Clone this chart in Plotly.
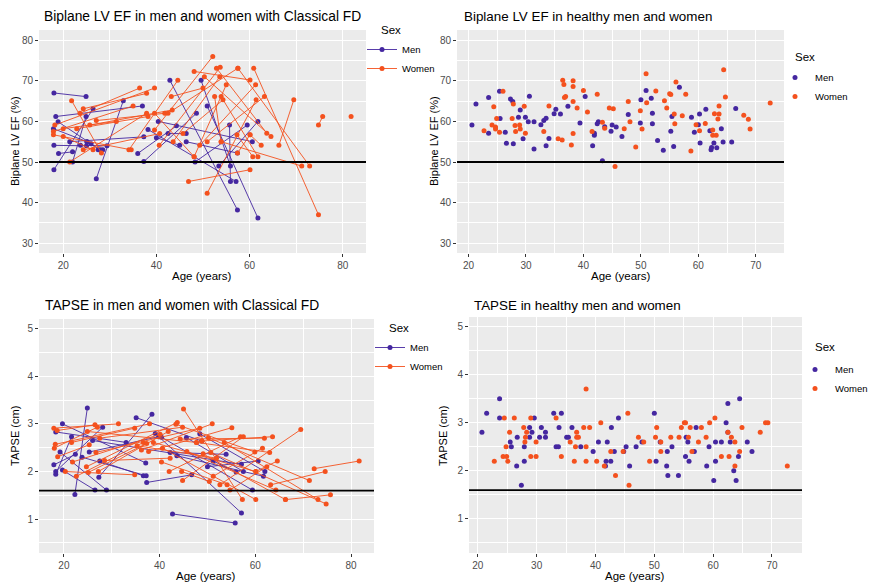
import plotly.graph_objects as go

# ---------------- DATA ----------------
MEN_COLOR = "#4527A0"
WOMEN_COLOR = "#F4511E"
EF_CUTOFF = 50
TAPSE_CUTOFF = 1.6

# Classical FD, Biplane LV EF: longitudinal segments (age1, ef1, age2, ef2)
FD_EF_MEN = [
    (18.0, 67.0, 24.9, 66.1), (18.4, 61.2, 37.0, 63.8), (18.9, 59.9, 26.0, 54.5),
    (17.9, 58.2, 25.1, 55.0), (18.0, 54.1, 25.0, 54.0), (19.0, 52.1, 22.0, 52.5),
    (18.0, 48.1, 26.4, 63.1), (27.1, 45.9, 32.9, 65.1), (21.4, 55.0, 37.3, 56.2),
    (22.0, 50.0, 24.9, 61.2), (23.7, 54.1, 29.4, 54.0), (27.5, 53.0, 28.5, 53.0),
    (37.3, 50.1, 48.6, 62.0), (42.9, 70.1, 57.4, 38.2), (50.9, 63.8, 61.8, 36.2),
    (36.0, 52.1, 44.3, 58.9), (40.0, 56.0, 45.0, 54.1), (46.4, 55.0, 57.4, 52.2),
    (48.3, 50.0, 59.5, 59.1), (53.4, 49.0, 61.8, 60.0), (55.9, 45.2, 55.7, 59.1),
    (40.4, 60.0, 60.6, 55.0), (38.2, 58.0, 57.1, 45.2), (49.6, 70.1, 55.9, 49.0),
    (42.5, 57.0, 46.4, 57.0), (25.1, 55.0, 28.0, 53.0),
]
FD_EF_WOMEN = [
    (21.8, 65.1, 28.2, 52.2), (23.6, 62.0, 36.4, 68.2), (24.3, 63.1, 37.9, 66.9),
    (18.2, 59.1, 39.6, 68.2), (17.9, 57.5, 35.0, 63.8), (17.9, 56.7, 34.6, 53.0),
    (20.0, 58.2, 31.4, 60.0), (20.0, 56.3, 26.4, 53.0), (21.4, 50.0, 37.9, 62.0),
    (22.9, 58.2, 38.2, 61.2), (24.3, 53.0, 40.7, 57.0), (25.7, 59.1, 43.4, 62.8),
    (27.1, 60.2, 41.8, 62.0), (34.1, 53.0, 44.6, 70.1), (39.6, 57.9, 52.1, 76.0),
    (40.6, 54.1, 53.7, 73.3), (42.5, 62.0, 57.5, 73.1), (43.2, 66.1, 50.0, 68.2),
    (43.6, 55.0, 53.6, 71.0), (45.7, 57.0, 54.3, 65.3), (48.1, 72.3, 60.1, 70.2),
    (50.3, 71.0, 64.6, 56.3), (52.9, 73.1, 63.7, 57.1), (48.1, 51.3, 55.0, 69.0),
    (49.3, 54.1, 61.3, 69.0), (50.9, 55.0, 63.2, 66.1), (50.9, 42.3, 61.4, 65.3),
    (46.9, 45.2, 60.1, 48.1), (57.5, 73.1, 72.9, 49.0), (60.9, 73.1, 74.8, 37.0),
    (53.9, 55.0, 71.2, 49.0), (66.3, 54.1, 69.5, 65.3), (74.8, 59.1, 75.7, 61.2),
    (60.1, 56.7, 62.5, 54.1), (57.3, 56.7, 60.7, 51.3), (53.9, 66.1, 61.8, 51.3),
    (57.4, 52.2, 60.1, 56.7), (52.5, 66.1, 53.9, 55.0), (39.6, 62.0, 48.1, 51.3),
    (81.8, 61.2, None, None),
]

# Healthy, Biplane LV EF (age, ef)
H_EF_MEN_AGE = [20.6, 21.3, 23.5, 23.5, 25.4, 25.5, 26.4, 26.6, 27.3, 27.7, 27.8, 28.7, 29.0, 29.5,
                29.9, 30.4, 30.6, 31.4, 31.4, 32.6, 33.1, 33.5, 33.5, 34.0, 34.9, 35.2, 36.0, 37.3,
                39.4, 40.3, 41.6, 41.9, 41.9, 42.4, 42.6, 43.3, 43.7, 45.0, 44.8, 45.7, 46.7, 47.8,
                49.9, 50.0, 50.9, 51.8, 52.0, 52.0, 52.9, 53.9, 55.2, 55.4, 55.7, 56.7, 58.8, 59.3,
                60.0, 60.2, 60.3, 61.3, 62.0, 62.2, 62.3, 62.7, 63.2, 64.0, 64.3, 65.8, 66.5]
H_EF_MEN_EF = [59.1, 64.3, 65.9, 57.1, 67.4, 60.7, 57.3, 54.6, 65.5, 64.9, 54.5, 61.0, 62.8, 55.7,
               61.0, 59.9, 66.2, 53.2, 59.9, 59.2, 60.2, 60.8, 54.0, 55.8, 61.9, 63.0, 61.8, 63.7,
               59.6, 66.1, 54.0, 57.1, 56.6, 59.4, 59.9, 50.3, 58.7, 59.1, 57.6, 58.6, 56.3, 61.7,
               59.6, 65.3, 67.6, 65.7, 62.0, 59.4, 55.3, 52.9, 57.6, 61.2, 53.8, 68.4, 61.0, 57.3,
               59.2, 61.8, 54.7, 63.0, 57.7, 53.0, 53.6, 54.7, 53.5, 58.2, 54.9, 54.9, 63.2]
H_EF_WOMEN_AGE = [22.7, 24.4, 24.1, 24.7, 24.9, 24.7, 25.4, 26.0, 27.6, 27.8, 28.1, 28.2, 28.9, 29.0,
                  29.7, 29.9, 33.1, 34.0, 35.6, 36.3, 36.4, 36.6, 36.7, 36.9, 38.2, 38.2, 38.2, 38.2,
                  37.9, 38.9, 40.0, 40.7, 41.5, 42.4, 43.3, 43.7, 44.5, 45.2, 45.5, 47.1, 47.8, 48.1,
                  49.1, 49.9, 50.2, 50.9, 51.0, 52.6, 54.1, 54.5, 55.0, 55.2, 55.8, 55.9, 56.1, 57.2,
                  57.8, 58.7, 59.6, 60.2, 61.2, 62.5, 62.5, 62.8, 63.1, 63.6, 63.6, 63.4, 64.4, 64.7,
                  67.9, 68.7, 69.0, 72.5]
H_EF_WOMEN_EF = [57.7, 63.6, 59.1, 58.6, 60.7, 58.1, 57.3, 67.4, 60.7, 64.3, 59.0, 57.5, 59.1, 58.1,
                 63.7, 57.1, 57.5, 63.8, 55.7, 55.4, 70.1, 69.1, 65.9, 66.1, 70.0, 68.6, 64.9, 57.0,
                 54.2, 63.3, 67.6, 62.3, 57.5, 66.7, 59.8, 58.3, 63.3, 63.1, 48.9, 58.2, 64.9, 59.9,
                 53.7, 62.6, 58.1, 71.7, 64.6, 67.5, 65.1, 63.3, 66.8, 66.6, 61.8, 59.4, 69.7, 61.4,
                 66.7, 52.7, 59.2, 57.7, 59.5, 57.9, 56.6, 61.9, 56.6, 61.8, 63.8, 60.6, 72.7, 66.0,
                 61.5, 60.5, 58.1, 64.5]

# Classical FD, TAPSE: longitudinal segments (age1, tapse1, age2, tapse2)
FD_TAPSE_MEN = [
    (17.9, 2.14, 22.4, 2.36), (18.3, 2.83, 33.0, 2.61), (18.3, 2.00, 28.1, 2.93),
    (18.3, 1.94, 21.6, 2.73), (19.2, 2.41, 28.9, 1.61), (19.7, 3.00, 37.1, 2.18),
    (19.7, 2.03, 26.5, 1.61), (22.3, 1.52, 24.9, 3.33), (27.3, 1.88, 38.4, 3.20),
    (35.1, 3.13, 48.8, 2.64), (42.7, 1.11, 55.8, 0.92), (37.3, 1.77, 46.7, 1.93),
    (36.6, 1.91, 27.5, 2.22), (39.1, 2.80, 57.1, 1.13), (40.4, 2.72, 59.4, 1.61),
    (45.6, 2.71, 57.5, 2.00), (48.4, 2.79, 62.0, 2.00), (50.0, 2.10, 60.6, 2.22),
    (43.6, 2.33, 61.7, 1.90), (42.2, 2.40, 53.9, 2.36), (51.2, 2.22, 56.0, 1.99),
    (23.8, 2.30, 37.2, 1.91), (25.3, 2.41, 39.8, 2.73), (26.0, 2.65, 57.1, 2.15),
]
FD_TAPSE_WOMEN = [
    (17.9, 2.91, 31.4, 3.00), (18.2, 2.57, 37.9, 3.00), (18.0, 2.49, 27.0, 2.93),
    (18.6, 2.86, 26.5, 2.98), (18.7, 2.31, 25.3, 2.56), (20.3, 2.00, 34.8, 1.93),
    (21.6, 2.61, 34.8, 2.91), (21.8, 2.20, 40.1, 2.78), (22.6, 1.90, 36.6, 2.61),
    (24.7, 2.10, 43.7, 3.03), (24.9, 2.84, 47.7, 2.61), (25.1, 1.98, 37.3, 2.59),
    (26.7, 2.40, 48.4, 2.91), (27.2, 2.00, 41.8, 2.84), (27.5, 2.70, 44.8, 2.93),
    (28.5, 2.23, 42.2, 2.28), (35.3, 2.54, 51.9, 2.28), (36.2, 2.45, 51.0, 3.00),
    (37.7, 2.42, 55.1, 2.92), (38.7, 2.61, 60.1, 2.00), (40.4, 2.20, 54.1, 1.72),
    (40.6, 2.49, 60.1, 1.41), (42.0, 2.00, 56.9, 2.73), (43.4, 2.99, 59.9, 2.41),
    (44.3, 2.68, 61.9, 2.70), (44.6, 2.00, 50.4, 1.79), (44.8, 1.81, 57.5, 2.73),
    (45.0, 3.31, 57.3, 1.41), (45.7, 2.42, 64.3, 1.61), (48.8, 2.64, 63.6, 2.73),
    (49.1, 2.37, 66.3, 1.41), (50.2, 2.71, 71.3, 1.81), (50.7, 2.40, 74.8, 1.32),
    (51.2, 1.90, 61.5, 2.49), (52.6, 1.72, 69.5, 2.88), (53.5, 2.61, 73.1, 1.41),
    (54.7, 1.61, 62.4, 2.10), (60.1, 2.00, 64.6, 2.22), (72.3, 2.06, 81.7, 2.22),
    (66.3, 1.41, 75.7, 1.51), (63.2, 1.72, 74.6, 2.00), (47.7, 2.61, 63.0, 2.40),
]

# Healthy, TAPSE (age, tapse)
H_TAPSE_MEN_AGE = [20.7, 21.5, 23.7, 23.7, 25.5, 25.7, 26.6, 26.7, 27.4, 27.9, 27.9, 28.8, 28.8, 29.2,
                   29.6, 30.5, 30.8, 31.5, 31.5, 32.9, 33.3, 33.7, 33.8, 34.2, 35.1, 35.4, 36.0, 37.5,
                   39.6, 40.5, 41.8, 42.0, 42.6, 42.7, 41.7, 43.2, 43.9, 44.8, 45.2, 45.8, 46.9, 47.9,
                   50.0, 50.3, 51.0, 52.1, 52.2, 52.3, 53.0, 54.1, 55.3, 55.4, 55.7, 55.9, 56.8, 57.1,
                   59.3, 58.9, 60.1, 60.4, 60.4, 61.4, 62.2, 62.5, 62.5, 62.9, 63.5, 63.9, 64.3, 64.5,
                   65.8, 66.6]
H_TAPSE_MEN_VAL = [2.8, 3.2, 3.5, 3.1, 2.6, 2.5, 2.1, 2.7, 1.7, 2.5, 2.2, 2.9, 2.7, 2.8,
                   3.1, 2.7, 2.9, 2.7, 2.8, 3.2, 2.5, 2.5, 2.9, 3.2, 2.7, 2.7, 2.9, 2.5,
                   2.4, 2.6, 2.2, 2.6, 2.2, 2.9, 2.1, 2.4, 3.1, 2.4, 2.5, 2.1, 2.5, 2.6,
                   3.2, 2.2, 2.6, 2.1, 2.4, 1.9, 2.5, 1.9, 2.3, 2.7, 2.6, 2.2, 2.4, 2.9,
                   2.5, 2.1, 1.8, 2.6, 2.2, 2.6, 3.0, 2.8, 3.4, 2.6, 2.0, 1.8, 2.3, 3.5,
                   2.6, 2.4]
H_TAPSE_WOMEN_AGE = [22.8, 24.3, 24.5, 24.8, 24.9, 25.1, 25.4, 26.2, 27.8, 28.0, 28.1, 28.3, 29.0, 29.0,
                     29.9, 29.9, 33.3, 34.2, 35.7, 36.4, 36.6, 36.8, 36.8, 37.1, 38.0, 38.4, 38.4, 38.4,
                     39.0, 40.2, 40.9, 41.5, 42.6, 43.4, 44.7, 45.5, 45.7, 47.3, 48.2, 49.2, 50.2, 50.4,
                     51.1, 51.1, 52.8, 54.2, 54.6, 55.1, 55.3, 55.8, 56.1, 56.4, 57.5, 58.0, 58.8, 59.4,
                     60.3, 61.4, 62.5, 62.7, 63.1, 63.7, 63.7, 64.5, 64.9, 68.0, 68.9, 69.3, 72.6]
H_TAPSE_WOMEN_VAL = [2.2, 2.3, 3.1, 2.5, 2.3, 2.2, 2.8, 3.1, 2.9, 2.6, 2.7, 2.8, 3.1, 2.3,
                     2.6, 2.3, 3.1, 2.3, 2.6, 2.2, 2.5, 2.8, 2.7, 2.7, 2.9, 3.7, 2.5, 2.2,
                     2.9, 2.2, 3.0, 2.1, 2.4, 1.9, 2.4, 3.2, 1.7, 2.7, 2.6, 2.2, 2.7, 2.9,
                     2.4, 2.6, 2.7, 2.7, 2.9, 3.0, 3.0, 2.7, 2.9, 2.4, 2.6, 2.9, 2.7, 3.0,
                     3.1, 2.3, 2.8, 2.3, 2.7, 2.6, 2.1, 2.4, 2.9, 2.8, 3.0, 3.0, 2.1]

TITLES = ["Biplane LV EF in men and women with Classical FD",
          "Biplane LV EF in healthy men and women",
          "TAPSE in men and women with Classical FD",
          "TAPSE in healthy men and women"]
X_TITLE = "Age (years)"
Y_TITLES = ["Biplane LV EF (%)", "Biplane LV EF (%)", "TAPSE (cm)", "TAPSE (cm)"]
LEGEND_TITLE = "Sex"
SEX_LABELS = ["Men", "Women"]

# ---------------- FIGURE ----------------
W, H = 870, 583
FONT = "Liberation Sans, Arial, sans-serif"


def seg_xy(segs):
    xs, ys = [], []
    for x1, y1, x2, y2 in segs:
        xs += [x1, x2, None]
        ys += [y1, y2, None]
    return xs, ys


fig = go.Figure()

# panel layout in pixels: (left, right, top, bottom)
PANELS = [(39, 366, 30, 253), (457, 784, 30, 253), (39, 374, 319, 553), (469, 802, 317, 553)]
XRANGES = [[14.8, 85.0], [18.0, 74.9], [14.8, 84.8], [18.5, 75.1]]
YRANGES = [[27.6, 82.5], [27.6, 82.5], [0.29, 5.2], [0.29, 5.2]]
XDT = [20, 10, 20, 10]
YDT = [10, 10, 1, 1]
TITLE_POS = [(42, 16), (462, 17), (43, 305), (472, 305)]
YTITLE_POS = [(15, 141), (434, 141), (15, 436), (443, 436)]
XTITLE_POS = [(202, 276), (621, 276), (206, 576), (635, 576)]
SEX_POS = [(379, 30), (793, 57), (387, 328), (813, 347)]
LEG_POS = [(362, 35), (775, 63), (370, 333), (795, 355)]
TITLE_SIZES = [13.8, 13.4, 13.8, 13.4]


def ax_names(i):
    s = "" if i == 0 else str(i + 1)
    return "x" + s, "y" + s, "xaxis" + s, "yaxis" + s, "legend" + s


for i in range(4):
    xa, ya, xak, yak, lg = ax_names(i)
    if i in (0, 2):
        men = FD_EF_MEN if i == 0 else FD_TAPSE_MEN
        wom = FD_EF_WOMEN if i == 0 else FD_TAPSE_WOMEN
        for segs, name, col in ((men, SEX_LABELS[0], MEN_COLOR), (wom, SEX_LABELS[1], WOMEN_COLOR)):
            xs, ys = seg_xy(segs)
            fig.add_trace(go.Scatter(x=xs, y=ys, mode="lines+markers", name=name,
                                     line=dict(color=col, width=0.9),
                                     marker=dict(color=col, size=5),
                                     connectgaps=False, xaxis=xa, yaxis=ya, legend=lg))
    else:
        if i == 1:
            data = ((H_EF_MEN_AGE, H_EF_MEN_EF), (H_EF_WOMEN_AGE, H_EF_WOMEN_EF))
        else:
            data = ((H_TAPSE_MEN_AGE, H_TAPSE_MEN_VAL), (H_TAPSE_WOMEN_AGE, H_TAPSE_WOMEN_VAL))
        for (ax_, ay_), name, col in zip(data, SEX_LABELS, (MEN_COLOR, WOMEN_COLOR)):
            fig.add_trace(go.Scatter(x=ax_, y=ay_, mode="markers", name=name,
                                     marker=dict(color=col, size=5),
                                     xaxis=xa, yaxis=ya, legend=lg))

layout = dict(width=W, height=H, margin=dict(l=0, r=0, t=0, b=0, autoexpand=False),
              paper_bgcolor="white", plot_bgcolor="#EBEBEB",
              font=dict(family=FONT, size=10, color="black"), shapes=[], annotations=[])


def ann(text, x, y, size, xanchor="center", angle=0, color="black"):
    return dict(text=text, xref="paper", yref="paper", x=x / W, y=1 - y / H,
                xanchor=xanchor, yanchor="middle", showarrow=False, textangle=angle,
                font=dict(family=FONT, size=size, color=color))


for i in range(4):
    xa, ya, xak, yak, lg = ax_names(i)
    l, r, t, b = PANELS[i]
    common = dict(showgrid=True, gridcolor="white", gridwidth=1.1, zeroline=False,
                  ticks="outside", ticklen=3, tickcolor="#333333", tickwidth=1,
                  tickfont=dict(family=FONT, size=10, color="#4D4D4D"),
                  showline=False, layer="below traces", automargin=False)
    layout[xak] = dict(common, domain=[l / W, r / W], anchor=ya, range=XRANGES[i],
                       dtick=XDT[i], tick0=0,
                       minor=dict(showgrid=True, gridcolor="white", gridwidth=0.5, dtick=XDT[i] / 2, tick0=0))
    layout[yak] = dict(common, domain=[1 - b / H, 1 - t / H], anchor=xa, range=YRANGES[i],
                       dtick=YDT[i], tick0=0,
                       minor=dict(showgrid=True, gridcolor="white", gridwidth=0.5, dtick=YDT[i] / 2, tick0=0))
    lx, ly = LEG_POS[i]
    layout[lg] = dict(x=lx / W, y=1 - ly / H, xanchor="left", yanchor="top",
                      bgcolor="rgba(0,0,0,0)", tracegroupgap=0, itemwidth=30,
                      font=dict(family=FONT, size=9.5, color="black"))
    tx, ty = TITLE_POS[i]
    layout["annotations"].append(ann(TITLES[i], tx, ty, TITLE_SIZES[i], xanchor="left"))
    yx, yy = YTITLE_POS[i]
    layout["annotations"].append(ann(Y_TITLES[i], yx, yy, 11, angle=-90))
    xx, xy = XTITLE_POS[i]
    layout["annotations"].append(ann(X_TITLE, xx, xy, 11.5))
    sx, sy = SEX_POS[i]
    layout["annotations"].append(ann(LEGEND_TITLE, sx, sy, 11.5, xanchor="left"))
    cutoff = EF_CUTOFF if i < 2 else TAPSE_CUTOFF
    layout["shapes"].append(dict(type="line", xref=xa + " domain", yref=ya, x0=0, x1=1,
                                 y0=cutoff, y1=cutoff, line=dict(color="black", width=1.8)))

fig.update_layout(**layout)
fig.write_html("out.html", config={"displayModeBar": False},
               post_script="document.body.style.margin='0px';")
